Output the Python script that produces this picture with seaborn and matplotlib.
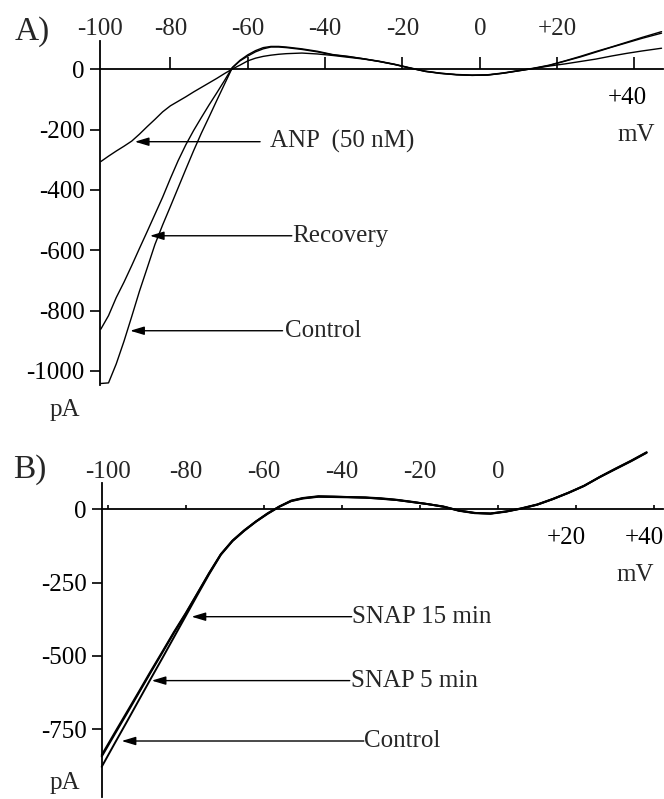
import matplotlib
matplotlib.use("Agg")
import matplotlib.pyplot as plt
from matplotlib.transforms import ScaledTranslation
import seaborn as sns
import pandas as pd

sns.set_style("white")
plt.rcParams["font.family"] = ["Liberation Serif", "DejaVu Serif"]

# ---------------- Panel A data (mV, pA) ----------------
v_a = [-98, -96, -94, -92, -90, -88, -86, -84, -82, -80, -78, -76, -74, -72, -70,
       -68, -66, -64, -62, -60, -58, -56, -54, -52, -50,
       -46, -42, -38, -34, -30, -26, -22, -18, -14, -10, -6, -2,
       2, 6, 10, 14, 18, 22, 26, 30, 34, 38, 42, 47]
control_a = [-1042, -1040, -977, -902, -820, -736, -659, -581, -516, -455, -393, -331, -270, -212, -158,
             -103, -49, 5, 28, 44, 58, 68, 74, 74, 72,
             66, 58, 48, 42, 35, 26, 16, 4, -7, -13, -17, -19,
             -18, -12, -4, 4, 14, 28, 43, 59, 74, 90, 106, 125]
recovery_a = [-862, -817, -757, -706, -651, -594, -538, -481, -424, -362, -303, -250, -203, -160, -118,
              -78, -37, 6, 30, 48, 62, 72, 76, 76, 74,
              68, 60, 49, 43, 35, 27, 17, 5, -6, -13, -18, -20,
              -19, -13, -5, 3, 13, 27, 41, 57, 73, 88, 103, 120]
anp_a = [-306, -288, -271, -255, -238, -215, -190, -166, -141, -121, -106, -91, -75, -60, -45,
         -30, -14, 1, 14, 28, 37, 43, 47, 50, 52,
         54, 51, 46, 40, 34, 26, 16, 4, -7, -14, -18, -20,
         -19, -13, -5, 3, 11, 18, 26, 34, 44, 53, 61, 70]

# ---------------- Panel B data (mV, pA) ----------------
v_b = [-101.5, -98, -95, -92, -89, -86, -83, -80, -77, -74, -71, -68, -65, -62, -59, -56, -53, -50,
       -46, -42, -38, -34, -30, -26, -22, -18, -14, -10, -6, -2,
       2, 6, 10, 14, 18, 22, 26, 30, 34, 38]
control_b = [-878, -794, -723, -651, -579, -508, -436, -364, -292, -221, -155, -108, -73, -42, -15, 9, 28, 37,
             43, 42, 41, 40, 36, 32, 25, 18, 10, -4, -12, -14,
             -7, 3, 16, 35, 56, 80, 110, 137, 164, 193]
snap5_b = [-843, -763, -695, -626, -557, -489, -421, -356, -287, -218, -153, -107, -72, -41, -14, 10, 29, 38,
           44, 43, 42, 40, 37, 32, 25, 18, 9, -4, -12, -14,
           -7, 4, 17, 36, 57, 81, 110, 138, 165, 194]
snap15_b = [-838, -758, -690, -622, -553, -486, -418, -354, -286, -217, -153, -106, -71, -41, -13, 10, 30, 39,
            45, 44, 42, 41, 38, 33, 26, 18, 9, -5, -13, -15,
            -8, 3, 16, 35, 57, 80, 111, 139, 166, 195]

# ---------------- Tick labels ----------------
top_labels_a = ["-100", "-80", "-60", "-40", "-20", "0", "+20"]
top_labels_b = ["-100", "-80", "-60", "-40", "-20", "0"]
yticks_a = [0, -200, -400, -600, -800, -1000]
yticks_b = [0, -250, -500, -750]

FS = 18

fig = plt.figure(figsize=(6.64, 7.99), dpi=100)
W, H = 664, 799
axA = fig.add_axes([100 / W, 1 - 385 / H, (662.7 - 100) / W, (385 - 41) / H])
axB = fig.add_axes([101.7 / W, 1 - 797 / H, (663 - 101.7) / W, (797 - 483.3) / H])

dfA = pd.DataFrame({"V": v_a * 3,
                    "I": control_a + recovery_a + anp_a,
                    "trace": ["Control"] * len(v_a) + ["Recovery"] * len(v_a) + ["ANP"] * len(v_a)})
dfB = pd.DataFrame({"V": v_b * 3,
                    "I": control_b + snap5_b + snap15_b,
                    "trace": ["Control"] * len(v_b) + ["SNAP 5"] * len(v_b) + ["SNAP 15"] * len(v_b)})

for name in ["Control", "Recovery", "ANP"]:
    d = dfA[dfA.trace == name]
    sns.lineplot(data=d, x="V", y="I", ax=axA, color="black", lw=1.0,
                 sort=False, estimator=None, legend=False)
for name in ["Control", "SNAP 5", "SNAP 15"]:
    d = dfB[dfB.trace == name]
    sns.lineplot(data=d, x="V", y="I", ax=axB, color="black", lw=1.4,
                 sort=False, estimator=None, legend=False)
for ax in (axA, axB):
    for ln in ax.lines:
        ln.set_clip_on(False)


def style(ax, xlim, ylim, xt, xlabels, tick_len, yt, top_pos, top_labels, label_dx):
    ax.set_xlim(*xlim)
    ax.set_ylim(*ylim)
    ax.set_xlabel("")
    ax.set_ylabel("")
    for s in ["top", "right"]:
        ax.spines[s].set_visible(False)
    ax.spines["bottom"].set_position(("data", 0))
    for s in ["bottom", "left"]:
        ax.spines[s].set_linewidth(1.3)
        ax.spines[s].set_color("black")
    ax.set_xticks(xt, xlabels)
    ax.tick_params(axis="x", bottom=True, direction="in", length=tick_len, width=1.2,
                   pad=13, labelsize=FS, colors="black")
    ax.set_yticks(yt, [str(v) for v in yt])
    ax.tick_params(axis="y", left=True, direction="out", length=7, width=1.2,
                   pad=4, labelsize=FS, colors="black")
    for lab in ax.get_xticklabels():
        lab.set_transform(lab.get_transform() + ScaledTranslation(label_dx / 100, 0, fig.dpi_scale_trans))
    sec = ax.secondary_xaxis("top")
    sec.set_xticks(top_pos, top_labels)
    sec.tick_params(length=0, pad=0.5, labelsize=FS)
    sec.spines["top"].set_visible(False)


style(axA, (-98.2, 47.3), (-1047, 94),
      [-80, -60, -40, -20, 0, 20, 40], ["", "", "", "", "", "", "+40"], 9,
      yticks_a, [-98.2, -80, -60, -40, -20, 0, 20], top_labels_a, -7)
style(axB, (-101.5, 42.2), (-981, 89),
      [-100, -80, -60, -40, -20, 0, 20, 40], ["", "", "", "", "", "", "+20", "+40"], 3,
      yticks_b, [-100, -80, -60, -40, -20, 0], top_labels_b, -10)


def arrow_label(ax, text, tip, line_end_x, text_x):
    ax.annotate("", xy=tip, xytext=(line_end_x, tip[1]),
                arrowprops=dict(arrowstyle="-|>,head_length=0.6,head_width=0.18",
                                color="black", lw=1.0, shrinkA=0, shrinkB=0,
                                mutation_scale=14))
    ax.text(text_x, tip[1], text, ha="left", va="center", fontsize=FS)


arrow_label(axA, "ANP  (50 nM)", (-89.2, -240), -56.8, -54.3)
arrow_label(axA, "Recovery", (-85.3, -552), -48.6, -48.6)
arrow_label(axA, "Control", (-90.4, -867), -51.0, -50.4)

arrow_label(axB, "SNAP 15 min", (-78.5, -366), -37.5, -37.5)
arrow_label(axB, "SNAP 5 min", (-88.7, -584), -38.0, -37.8)
arrow_label(axB, "Control", (-96.4, -790), -34.4, -34.4)

axA.text(40.4, -218, "mV", ha="center", va="center", fontsize=FS)
axB.text(35.2, -224, "mV", ha="center", va="center", fontsize=FS)
axA.text(-107.3, -1130, "pA", ha="center", va="center", fontsize=FS, clip_on=False)
axB.text(-110.9, -933, "pA", ha="center", va="center", fontsize=FS, clip_on=False)

fig.text(32 / W, 1 - 32 / H, "A)", ha="center", va="center", fontsize=24)
fig.text(30 / W, 1 - 470 / H, "B)", ha="center", va="center", fontsize=24)

fig.savefig("out.png", dpi=100)
